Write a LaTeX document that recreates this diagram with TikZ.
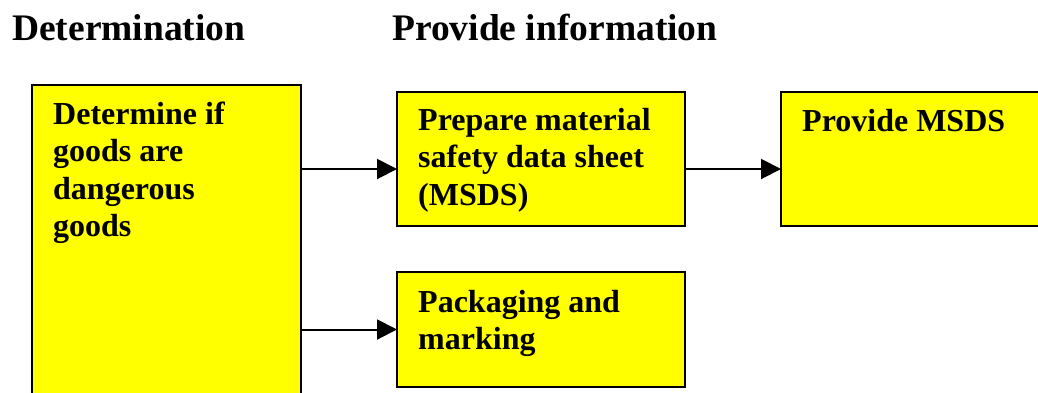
\documentclass[tikz,border=0pt]{standalone}
\usepackage{fontspec}
\setmainfont{Liberation Serif}
\usetikzlibrary{arrows.meta}
\definecolor{boxyellow}{RGB}{255,255,0}
\begin{document}
\begin{tikzpicture}[x=1pt,y=-1pt,
 boxnode/.style={draw=black,line width=2.2pt,fill=boxyellow,anchor=north west,inner sep=0pt,outer sep=0pt},
 boxtext/.style={anchor=base west,inner sep=0pt,font=\fontsize{32}{37.5}\selectfont\bfseries,align=left},
 headtext/.style={anchor=base west,inner sep=0pt,font=\fontsize{37.5}{40}\selectfont\bfseries},
 arr/.style={line width=2pt,-{Triangle[length=20pt,width=20pt]}}]
\useasboundingbox (0,0) rectangle (1038,392);
% headers
\node[headtext] (h1) at (12,40) {Determination};
\node[headtext] (h2) at (392,40) {Provide information};
% boxes
\node[boxnode,minimum width=269pt,minimum height=330pt] (b1) at (32,85) {};
\node[boxnode,minimum width=288pt,minimum height=134pt] (b2) at (397,92) {};
\node[boxnode,minimum width=280pt,minimum height=134pt] (b3) at (781,92) {};
\node[boxnode,minimum width=288pt,minimum height=115pt] (b4) at (397,272) {};
% texts (anchor: baseline of the last line)
\node[boxtext] (t1) at (53,236.5) {Determine if\\goods are\\dangerous\\goods};
\node[boxtext] (t2) at (418,205) {Prepare material\\safety data sheet\\(MSDS)};
\node[boxtext] (t3) at (802,131) {Provide MSDS};
\node[boxtext] (t4) at (418,349.5) {Packaging and\\marking};
% connectors
\coordinate (a1) at (0,169);
\draw[arr] (b1.east |- a1) -- (b2.west |- a1);
\draw[arr] (b2.east |- a1) -- (b3.west |- a1);
\draw[arr] (b1.east |- b4.west) -- (b4.west);
\end{tikzpicture}
\end{document}
